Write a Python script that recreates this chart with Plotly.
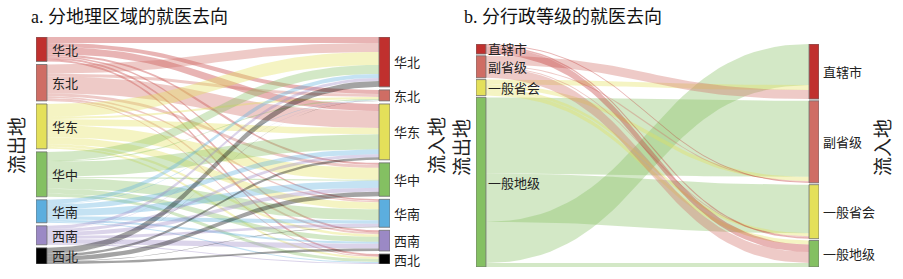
import numpy as np
import plotly.graph_objects as go

# ---------------- Chart a: by geographic region ----------------
regions = ["华北", "东北", "华东", "华中", "华南", "西南", "西北"]
region_colors = ["#c0302e", "#cf6d64", "#e4e05a", "#84c062", "#5caede", "#9b89c5", "#000000"]
# outflows from each source region to target regions (same order as `regions`)
from_huabei = [6, 4, 7, 2, 1.5, 2, 2]
from_dongbei = [9, 3, 17, 3, 1.5, 2, 1]
from_huadong = [13, 2, 6.5, 12, 7, 2.5, 2]
from_huazhong = [9, 1, 15, 1, 11, 5, 3]
from_huanan = [4, 0.5, 5, 7, 3.5, 2, 1]
from_xinan = [3, 0.3, 3, 4, 3, 4.7, 1]
from_xibei = [6, 0.2, 2.5, 4.5, 0.5, 2.5, 0]
flows_a = [from_huabei, from_dongbei, from_huadong, from_huazhong,
           from_huanan, from_xinan, from_xibei]

# ---------------- Chart b: by administrative level ----------------
levels = ["直辖市", "副省级", "一般省会", "一般地级"]
level_colors = ["#c0302e", "#cf6d64", "#e4e05a", "#84c062"]
# links listed in stacking order
link_src_b = [3, 3, 3, 2, 2, 2, 2, 1, 1, 1, 0, 0, 0, 1, 3]
link_tgt_b = [1, 2, 0, 0, 1, 2, 3, 0, 1, 2, 1, 2, 3, 3, 3]
link_val_b = [76, 48.5, 41, 5, 4, 3, 4, 9, 1, 1, 1, 1.5, 7.5, 11, 4]

FONT_CJK = "Noto Sans CJK SC"
LABEL_FONT = dict(family=FONT_CJK, size=13, color="#222222")

annotations = []


def hex_to_rgba(h, a):
    h = h.lstrip("#")
    r, g, b = int(h[0:2], 16), int(h[2:4], 16), int(h[4:6], 16)
    return f"rgba({r},{g},{b},{a})"


def add_sankey(fig, names, colors, src, tgt, val, xref, yref, pad, node_w, shift_src, shift_tgt):
    n = len(names)
    out_tot = np.zeros(n)
    in_tot = np.zeros(n)
    for s, t, v in zip(src, tgt, val):
        out_tot[s] += v
        in_tot[t] += v
    ky = (1 - (n - 1) * pad) / max(out_tot.sum(), in_tot.sum())

    def stack(tot):
        y0 = np.zeros(n)
        y = 0.0
        for i in range(n):
            y0[i] = y
            y += tot[i] * ky + pad
        return y0

    s_y0 = stack(out_tot)
    t_y0 = stack(in_tot)
    s_off = s_y0.copy()
    t_off = t_y0.copy()

    x0, x1 = node_w, 1 - node_w
    xm = (x0 + x1) / 2
    tt = np.linspace(0, 1, 40)
    bx = (1 - tt) ** 3 * x0 + 3 * (1 - tt) ** 2 * tt * xm + 3 * (1 - tt) * tt ** 2 * xm + tt ** 3 * x1

    def by(ya, yb):
        return (1 - tt) ** 3 * ya + 3 * (1 - tt) ** 2 * tt * ya + 3 * (1 - tt) * tt ** 2 * yb + tt ** 3 * yb

    for s, t, v in zip(src, tgt, val):
        if v <= 0:
            continue
        h = v * ky
        ys0, ys1 = s_off[s], s_off[s] + h
        yt0, yt1 = t_off[t], t_off[t] + h
        s_off[s] = ys1
        t_off[t] = yt1
        xs = np.concatenate([bx, bx[::-1], [bx[0]]])
        ys = np.concatenate([by(ys0, yt0), by(ys1, yt1)[::-1], [ys0]])
        fig.add_trace(go.Scatter(
            x=xs, y=ys, mode="lines", fill="toself",
            fillcolor=hex_to_rgba(colors[s], 0.36),
            line=dict(width=0, color="rgba(0,0,0,0)"),
            hoverinfo="skip", xaxis=xref, yaxis=yref, showlegend=False))

    # nodes and their labels
    for col, (ystart, tot) in enumerate([(s_y0, out_tot), (t_y0, in_tot)]):
        xa, xb = (0, node_w) if col == 0 else (1 - node_w, 1)
        for i in range(n):
            ya, yb = ystart[i], ystart[i] + tot[i] * ky
            fig.add_trace(go.Scatter(
                x=[xa, xb, xb, xa, xa], y=[ya, ya, yb, yb, ya],
                mode="lines", fill="toself", fillcolor=colors[i],
                line=dict(width=1, color="rgba(110,110,110,0.8)"),
                hoverinfo="text", text=names[i],
                xaxis=xref, yaxis=yref, showlegend=False))
            annotations.append(dict(
                text=names[i], x=xb, y=(ya + yb) / 2, xref=xref, yref=yref,
                xanchor="left", yanchor="middle", showarrow=False, borderpad=0,
                xshift=shift_src if col == 0 else shift_tgt, font=LABEL_FONT))


fig = go.Figure()

src_a, tgt_a, val_a = [], [], []
for i, row in enumerate(flows_a):
    for j, v in enumerate(row):
        src_a.append(i)
        tgt_a.append(j)
        val_a.append(v)

add_sankey(fig, regions, region_colors, src_a, tgt_a, val_a,
           "x", "y", pad=0.0135, node_w=0.031, shift_src=4, shift_tgt=3)
add_sankey(fig, levels, level_colors, link_src_b, link_tgt_b, link_val_b,
           "x2", "y2", pad=0.008, node_w=0.029, shift_src=1, shift_tgt=3)

W, H = 903, 279
axis_common = dict(visible=False, fixedrange=True)
fig.update_layout(
    width=W, height=H,
    margin=dict(l=0, r=0, t=0, b=0),
    paper_bgcolor="white", plot_bgcolor="white",
    showlegend=False,
    xaxis=dict(domain=[36 / W, 390 / W], range=[0, 1], **axis_common),
    yaxis=dict(domain=[1 - 264 / H, 1 - 37 / H], range=[1, 0], **axis_common),
    xaxis2=dict(domain=[476 / W, 819 / W], range=[0, 1], **axis_common),
    yaxis2=dict(domain=[1 - 267 / H, 1 - 44 / H], range=[1, 0], **axis_common),
)

title_font = dict(family="Liberation Serif, " + FONT_CJK, size=18, color="#111111")
axis_font = dict(family=FONT_CJK, size=19, color="#222222")
extra = [
    dict(text="a. 分地理区域的就医去向", x=30 / W, y=1 - 17 / H, xanchor="left", font=title_font),
    dict(text="b. 分行政等级的就医去向", x=463 / W, y=1 - 17 / H, xanchor="left", font=title_font),
    dict(text="流出地", x=15 / W, y=1 - 146 / H, textangle=-90, font=axis_font),
    dict(text="流入地", x=435 / W, y=1 - 146 / H, textangle=-90, font=axis_font),
    dict(text="流出地", x=460 / W, y=1 - 148 / H, textangle=-90, font=axis_font),
    dict(text="流入地", x=881 / W, y=1 - 148 / H, textangle=-90, font=axis_font),
]
for a in extra:
    a.setdefault("xanchor", "center")
    a.update(xref="paper", yref="paper", showarrow=False, yanchor="middle", borderpad=0)
annotations.extend(extra)
fig.update_layout(annotations=annotations)

fig.write_html("out.html")
